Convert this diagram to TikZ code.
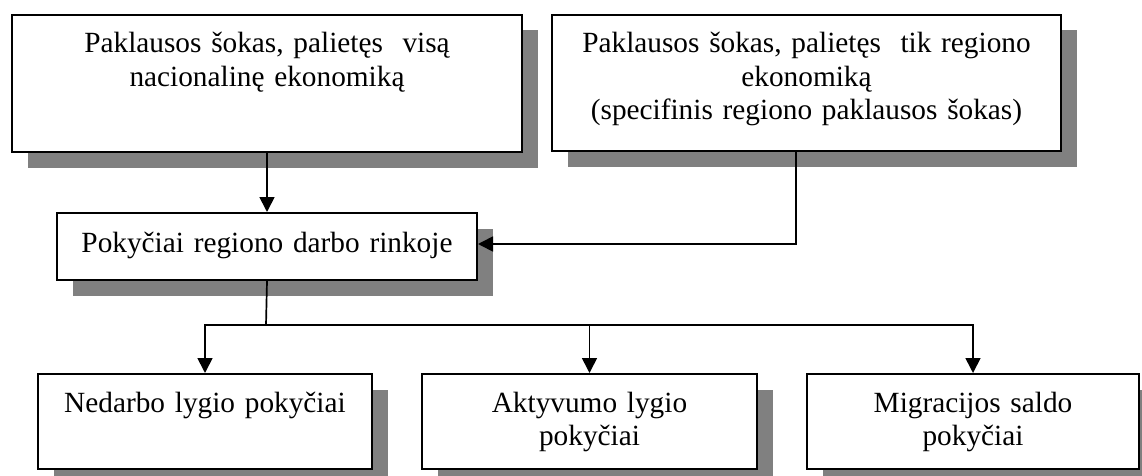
\documentclass[tikz,border=0pt]{standalone}
\usepackage{fontspec}
\setmainfont{Liberation Serif}
\usetikzlibrary{arrows.meta,shadows}
\tikzset{
  boxnode/.style={draw=black, line width=2pt, fill=white, anchor=north west,
    align=center, inner sep=0pt, text height=38pt,
    font=\fontsize{29.3}{33.5}\selectfont,
    drop shadow={shadow xshift=15.5pt, shadow yshift=-15.5pt, fill=gray, opacity=1, draw=none}},
  conn/.style={line width=1.7pt, draw=black},
  arr/.style={conn, -{Triangle[length=15pt,width=15pt]}}
}
\begin{document}
\begin{tikzpicture}[x=1pt,y=-1pt]
\useasboundingbox (0,0) rectangle (1142,476);
\node[boxnode, text width=510pt, text depth=99pt] (b1) at (11,14)
  {Paklausos šokas, palietęs~ visą\\nacionalinę ekonomiką};
\node[boxnode, text width=509pt, text depth=98pt] (b2) at (551,14)
  {Paklausos šokas, palietęs~ tik regiono\\ekonomiką\\(specifinis regiono paklausos šokas)};
\node[boxnode, text width=420pt, text height=39pt, text depth=28pt] (b3) at (56,212)
  {Pokyčiai regiono darbo rinkoje};
\node[boxnode, text width=334pt, text depth=57pt] (b4) at (37,373)
  {Nedarbo lygio pokyčiai};
\node[boxnode, text width=335pt, text depth=57pt] (b5) at (421,373)
  {Aktyvumo lygio\\pokyčiai};
\node[boxnode, text width=332pt, text depth=57pt] (b6) at (806,373)
  {Migracijos saldo\\pokyčiai};
\coordinate (c2) at (796,243);
\coordinate (split) at (266,325);
\draw[arr] (b1.south) -- (b3.north);
\draw[arr] (b2.south -| c2) |- ([yshift=2.5pt]b3.east);
\draw[conn] (b3.south) -- (split);
\draw[conn, line cap=rect] (b4.north |- split) -- (b6.north |- split);
\draw[arr] (b4.north |- split) -- (b4.north);
\draw[arr] (b5.north |- split) -- (b5.north);
\draw[arr] (b6.north |- split) -- (b6.north);
\end{tikzpicture}
\end{document}
